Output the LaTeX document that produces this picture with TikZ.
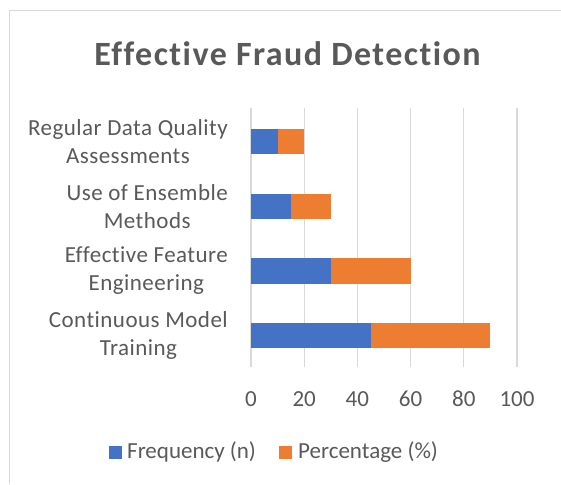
\documentclass[tikz,border=0pt]{standalone}
\usepackage{fontspec}
\setmainfont[Ligatures=NoCommon]{Carlito}
\newfontfamily\titlefont[Ligatures=NoCommon, LetterSpace=4.3]{Carlito}
\newfontfamily\catfont[Ligatures=NoCommon, LetterSpace=2]{Carlito}
\newlength{\du}
\setlength{\du}{1pt}
\definecolor{freqcolor}{rgb}{0.266667, 0.447059, 0.768627}
\definecolor{pctcolor}{rgb}{0.929412, 0.490196, 0.192157}
\definecolor{gridcolor}{rgb}{0.850980, 0.850980, 0.850980}
\definecolor{labelcolor}{rgb}{0.349020, 0.349020, 0.349020}
\tikzset{
  catlabel/.style={text=labelcolor, font=\catfont\fontsize{23}{28}\selectfont, align=center, anchor=east, inner sep=0pt},
  ticklabel/.style={text=labelcolor, font=\fontsize{23}{28}\selectfont},
  keybox/.style={minimum width=13\du, minimum height=13\du, inner sep=0pt},
}

\begin{document}
\begin{tikzpicture}
\pgftransformxscale{1.000000}
\pgftransformyscale{-1.000000}
\useasboundingbox (0\du,0\du) rectangle (561\du,484\du);
% chart frame
\draw[gridcolor, line width=1.2\du] (9.5\du,484\du)--(9.5\du,10.5\du)--(561\du,10.5\du);
% title
\node[text=labelcolor, font=\titlefont\fontsize{34}{40}\selectfont\bfseries] (title) at (287.5\du,54\du){Effective Fraud Detection};
% gridlines and tick labels, 20 units = 53.2
\foreach \v [count=\i from 0] in {0,20,40,60,80,100}{
  \draw[gridcolor, line width=1.3\du] (251\du+\i*53.2\du,108\du)--(251\du+\i*53.2\du,367\du);
  \node[ticklabel] (tick\i) at (251\du+\i*53.2\du,399\du){\v};
}
% bars: frequency then percentage stacked
\foreach \name/\val/\y/\txt in {regular/10/141.5/{Regular Data Quality\\Assessments},
    ensemble/15/206.5/{Use of Ensemble\\Methods},
    feature/30/271/{Effective Feature\\Engineering},
    training/45/335.5/{Continuous Model\\Training}}{
  \fill[freqcolor] (251\du,\y\du-12.7\du) rectangle (251\du+\val*2.66\du,\y\du+12.7\du);
  \fill[pctcolor] (251\du+\val*2.66\du,\y\du-12.7\du) rectangle (251\du+\val*5.32\du,\y\du+12.7\du);
  \node[catlabel] (\name) at (228\du,\y\du){\txt};
}
% legend
\node[keybox, fill=freqcolor] (freqkey) at (115.5\du,452.5\du){};
\node[ticklabel, anchor=west, inner sep=0pt] (freqtext) at (127\du,452\du){Frequency (n)};
\node[keybox, fill=pctcolor] (pctkey) at (285.5\du,452.5\du){};
\node[ticklabel, anchor=west, inner sep=0pt] (pcttext) at (298\du,452\du){Percentage (\%)};
\end{tikzpicture}
\end{document}
